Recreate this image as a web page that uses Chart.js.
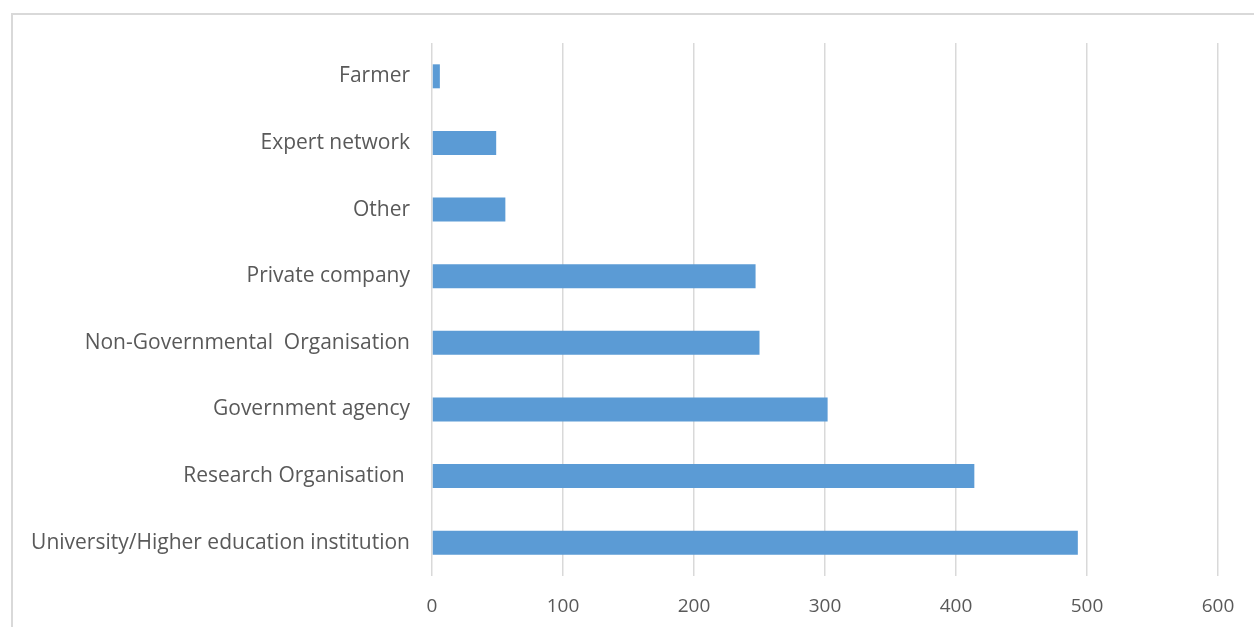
<!DOCTYPE html>
<html>
<head>
<meta charset="utf-8">
<script src="https://cdn.jsdelivr.net/npm/chart.js@4/dist/chart.umd.min.js"></script>
<style>
  html, body { margin: 0; padding: 0; background: #fff; overflow: hidden; }
  #frame { position: absolute; left: 11px; top: 13px; width: 1400px; height: 800px;
           border: 2px solid #d9d9d9; box-sizing: border-box; }
  #wrap { position: absolute; left: 0; top: 0; width: 1254px; height: 627px; }
</style>
</head>
<body>
<div id="frame"></div>
<div id="wrap"><canvas id="chart" width="1254" height="627"></canvas></div>
<script>
// Respondent organisation types (top to bottom as drawn)
const categories = [
  "Farmer",
  "Expert network",
  "Other",
  "Private company",
  "Non-Governmental  Organisation",
  "Government agency",
  "Research Organisation ",
  "University/Higher education institution"
];
const counts = [6, 49, 56, 247, 250, 302, 414, 493];
const xTicks = [0, 100, 200, 300, 400, 500, 600];

const LEFT_EDGE = 432;   // where the value axis starts
const catFont = { family: "'Open Sans', 'DejaVu Sans', sans-serif", size: 21 };
const valFont = { family: "'Open Sans', 'DejaVu Sans', sans-serif", size: 19 };

new Chart(document.getElementById('chart'), {
  type: 'bar',
  data: {
    labels: categories,
    datasets: [{
      data: counts,
      backgroundColor: '#5b9bd5',
      borderWidth: 0,
      categoryPercentage: 1,
      barPercentage: 0.36
    }]
  },
  options: {
    indexAxis: 'y',
    responsive: false,
    animation: false,
    layout: { padding: { top: 43, right: 36, bottom: 0, left: 0 } },
    plugins: { legend: { display: false }, tooltip: { enabled: false } },
    scales: {
      x: {
        min: 0, max: 600,
        afterBuildTicks: (s) => { s.ticks = xTicks.map(v => ({ value: v })); },
        grid: { color: '#d9d9d9', lineWidth: 1.5, drawTicks: false },
        border: { display: false },
        ticks: { color: '#595959', font: valFont, padding: 19 },
        afterFit: (s) => { s.height = 51; }
      },
      y: {
        grid: { display: false, drawTicks: false },
        border: { display: false },
        ticks: { color: '#595959', font: catFont, padding: 22, autoSkip: false },
        afterFit: (s) => { s.width = LEFT_EDGE; }
      }
    }
  }
});
</script>
</body>
</html>
